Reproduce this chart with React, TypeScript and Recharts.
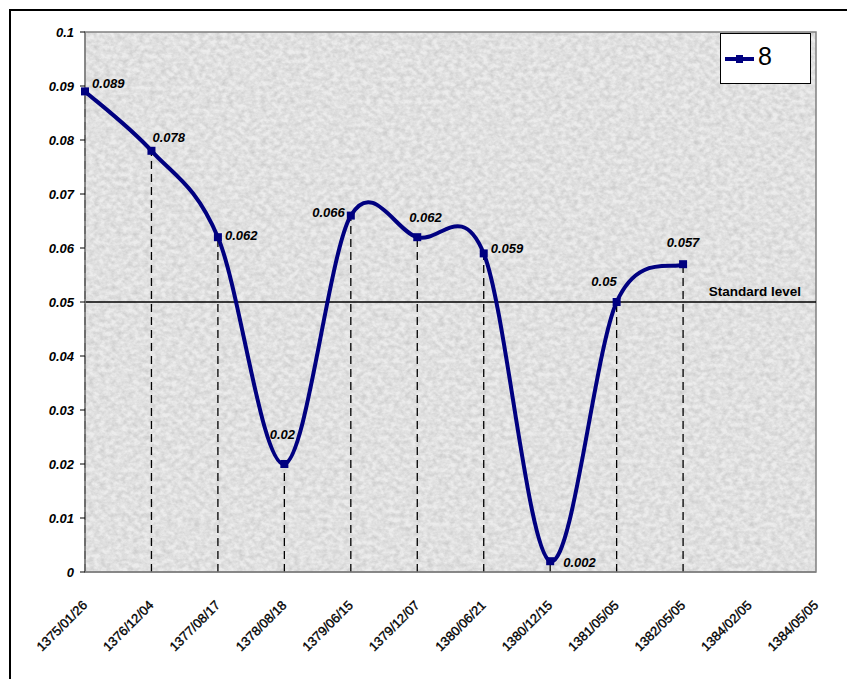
import React from 'react';
import {
  LineChart,
  Line,
  XAxis,
  YAxis,
  CartesianGrid,
  ReferenceLine,
  ReferenceArea,
  LabelList,
  Legend,
} from 'recharts';

const DATES = [
  '1375/01/26',
  '1376/12/04',
  '1377/08/17',
  '1378/08/18',
  '1379/06/15',
  '1379/12/07',
  '1380/06/21',
  '1380/12/15',
  '1381/05/05',
  '1382/05/05',
  '1384/02/05',
  '1384/05/05',
];
const VALUES: (number | null)[] = [0.089, 0.078, 0.062, 0.02, 0.066, 0.062, 0.059, 0.002, 0.05, 0.057, null, null];
const Y_TICKS = [0, 0.01, 0.02, 0.03, 0.04, 0.05, 0.06, 0.07, 0.08, 0.09, 0.1];
const STANDARD_LEVEL = 0.05;
const SERIES_NAME = '8';

// where each value label sits relative to its point: [dx, dy, anchor]
const LABEL_POS: [number, number, 'start' | 'middle' | 'end'][] = [
  [7, -3, 'start'],
  [1, -9, 'start'],
  [7, 3, 'start'],
  [-2, -25, 'middle'],
  [-6, 1, 'end'],
  [-8, -15, 'start'],
  [7, 0, 'start'],
  [13, 6, 'start'],
  [0, -16, 'end'],
  [0, -17, 'middle'],
];

const data = DATES.map((d, i) => ({ date: d, v: VALUES[i] }));

const FONT = "'Liberation Sans', Arial, sans-serif";
const NAVY = '#000080';

// Excel-like smoothed line (Catmull-Rom through the points)
const smoothCurve = (ctx: any) => {
  let pts: number[][] = [];
  return {
    areaStart() {},
    areaEnd() {},
    lineStart() {
      pts = [];
    },
    lineEnd() {
      if (!pts.length) return;
      ctx.moveTo(pts[0][0], pts[0][1]);
      for (let i = 0; i < pts.length - 1; i++) {
        const p0 = pts[Math.max(i - 1, 0)];
        const p1 = pts[i];
        const p2 = pts[i + 1];
        const p3 = pts[Math.min(i + 2, pts.length - 1)];
        const t = 1 / 6;
        ctx.bezierCurveTo(
          p1[0] + (p2[0] - p0[0]) * t,
          p1[1] + (p2[1] - p0[1]) * t,
          p2[0] - (p3[0] - p1[0]) * t,
          p2[1] - (p3[1] - p1[1]) * t,
          p2[0],
          p2[1]
        );
      }
    },
    point(x: number, y: number) {
      pts.push([+x, +y]);
    },
  };
};

const SquareDot = (props: any) => {
  const { cx, cy, value } = props;
  if (value == null || cx == null || cy == null) return null;
  return <rect x={cx - 4} y={cy - 4} width={8} height={8} fill={NAVY} />;
};

const XTick = (props: any) => {
  const { x, y, payload } = props;
  const tx = x + 3;
  const ty = y + 34;
  return (
    <text
      x={tx}
      y={ty}
      transform={`rotate(-45, ${tx}, ${ty})`}
      textAnchor="end"
      fontFamily={FONT}
      fontSize={13}
      fill="#000"
      stroke="#000"
      strokeWidth={0.35}
    >
      {payload.value}
    </text>
  );
};

const ValueLabel = (props: any) => {
  const { x, y, value, index } = props;
  if (value == null) return null;
  const [dx, dy, anchor] = LABEL_POS[index] || [0, -8, 'middle'];
  return (
    <text
      x={x + dx}
      y={y + dy}
      textAnchor={anchor}
      fontFamily={FONT}
      fontSize={13}
      fontWeight="bold"
      fontStyle="italic"
      fill="#000"
    >
      {value}
    </text>
  );
};

const StandardLabel = (props: any) => {
  const { viewBox } = props;
  return (
    <text
      x={viewBox.x + viewBox.width - 15}
      y={viewBox.y - 6}
      textAnchor="end"
      fontFamily={FONT}
      fontSize={13.5}
      fontWeight="bold"
      fill="#000"
    >
      Standard level
    </text>
  );
};

const LegendBox = () => (
  <div
    style={{
      width: 91,
      height: 51,
      boxSizing: 'border-box',
      border: '1px solid #000',
      background: '#fff',
      display: 'flex',
      alignItems: 'center',
      paddingLeft: 4,
    }}
  >
    <svg width={30} height={12}>
      <line x1={0} y1={6} x2={29} y2={6} stroke={NAVY} strokeWidth={4} />
      <rect x={11} y={2} width={7} height={8} fill={NAVY} />
    </svg>
    <span
      style={{
        fontFamily: "'Liberation Sans Narrow', 'Arial Narrow', 'Liberation Sans', sans-serif",
        fontSize: 25,
        marginLeft: 3,
        marginTop: -4,
        color: '#000',
      }}
    >
      {SERIES_NAME}
    </span>
  </div>
);

export default function App() {
  return (
    <div style={{ position: 'absolute', left: 0, top: 0, width: 847, height: 679, background: '#fff', overflow: 'hidden' }}>
      <div
        style={{
          position: 'absolute',
          left: 9,
          top: 9,
          width: 900,
          height: 700,
          borderTop: '2px solid #000',
          borderLeft: '2px solid #000',
        }}
      />
      <div style={{ position: 'absolute', left: 0, top: 0 }}>
        <LineChart width={847} height={679} data={data} margin={{ top: 32, right: 31, left: 0, bottom: 0 }}>
          <defs>
            <filter id="paperNoise" x="0" y="0" width="100%" height="100%">
              <feTurbulence type="fractalNoise" baseFrequency="0.18 0.22" numOctaves={3} seed={7} />
              <feColorMatrix type="matrix" values="0 0 0 0 0  0 0 0 0 0  0 0 0 0 0  0.22 0 0 0 -0.06" />
            </filter>
            <pattern id="paper" patternUnits="userSpaceOnUse" x={0} y={0} width={847} height={679}>
              <rect x={0} y={0} width={847} height={679} fill="#ececec" />
              <rect x={0} y={0} width={847} height={679} filter="url(#paperNoise)" />
            </pattern>
          </defs>
          <CartesianGrid horizontal={false} vertical={false} fill="url(#paper)" fillOpacity={1} />
          <ReferenceArea
            x1={DATES[0]}
            x2={DATES[DATES.length - 1]}
            y1={0}
            y2={0.1}
            fill="none"
            stroke="#808080"
            strokeWidth={1.5}
          />
          <XAxis
            dataKey="date"
            height={107}
            interval={0}
            tickLine={false}
            tickSize={0}
            tickMargin={0}
            axisLine={{ stroke: '#808080', strokeWidth: 1.5 }}
            tick={<XTick />}
          />
          <YAxis
            width={85}
            domain={[0, 0.1]}
            ticks={Y_TICKS}
            interval={0}
            tickSize={5}
            tickMargin={6}
            axisLine={{ stroke: '#808080', strokeWidth: 1.5 }}
            tickLine={{ stroke: '#000' }}
            tick={{ fontFamily: FONT, fontSize: 13, fontWeight: 'bold', fontStyle: 'italic', fill: '#000' }}
          />
          {data
            .filter((d) => d.v != null)
            .map((d) => (
              <ReferenceLine
                key={d.date}
                segment={[
                  { x: d.date, y: 0 },
                  { x: d.date, y: d.v as number },
                ]}
                stroke="#000"
                strokeWidth={1.3}
                strokeDasharray="8 5"
              />
            ))}
          <ReferenceLine y={STANDARD_LEVEL} stroke="#000" strokeWidth={1.5} label={<StandardLabel />} />
          <Line
            dataKey="v"
            name={SERIES_NAME}
            type={smoothCurve as any}
            stroke={NAVY}
            strokeWidth={4}
            dot={<SquareDot />}
            activeDot={false}
            isAnimationActive={false}
          >
            <LabelList dataKey="v" content={<ValueLabel />} />
          </Line>
          <Legend
            layout="vertical"
            align="center"
            verticalAlign="middle"
            wrapperStyle={{ top: 33, left: 720, width: 91, height: 51 }}
            content={() => <LegendBox />}
          />
        </LineChart>
      </div>
    </div>
  );
}
